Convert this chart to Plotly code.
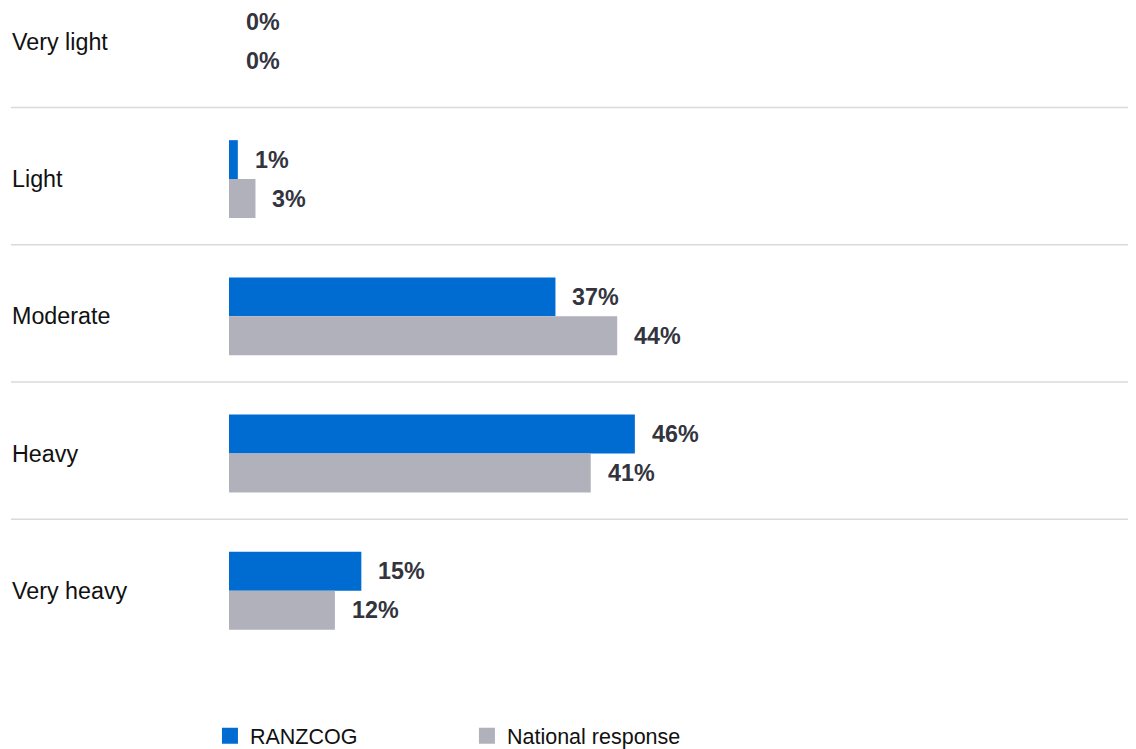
import plotly.graph_objects as go

# === DATA ===
categories = ["Very light", "Light", "Moderate", "Heavy", "Very heavy"]
ranzcog = [0, 1, 37, 46, 15]
national = [0, 3, 44, 41, 12]
series_names = ["RANZCOG", "National response"]

BLUE = "#006CD1"
GREY = "#B1B1BC"
LABEL_COLOR = "#34343E"
FONT = "Liberation Sans, Arial, sans-serif"

# page body has an 8px margin, so the figure is 8px smaller than the window
fig = go.Figure()
for vals, name, col, grp in ((ranzcog, series_names[0], BLUE, "a"),
                             (national, series_names[1], GREY, "b")):
    fig.add_trace(go.Bar(y=categories, x=vals, orientation="h", name=name,
                         marker=dict(color=col, line=dict(width=0)), offsetgroup=grp,
                         showlegend=False))
    # legend entry with a bigger square swatch
    fig.add_trace(go.Scatter(x=[None], y=[None], mode="markers", name=name,
                             marker=dict(symbol="square", size=18, color=col)))

# value labels, placed a little right of each bar end
annotations = []
for i, cat in enumerate(categories):
    for val, off in ((ranzcog[i], -0.142), (national[i], 0.142)):
        annotations.append(dict(x=val, y=i + off, xref="x", yref="y", text=f"<b>{val}%</b>",
                                showarrow=False, xanchor="left", yanchor="middle", xshift=15,
                                font=dict(size=23.3, color=LABEL_COLOR, family=FONT)))
    # category names on the far left
    annotations.append(dict(x=-0.2415, y=i, xref="paper", yref="y", text=cat, showarrow=False,
                            xanchor="left", yanchor="middle",
                            font=dict(size=23.3, color="#111111", family=FONT)))

# thin separators between rows
shapes = []
for i in range(4):
    shapes.append(dict(type="line", xref="paper", yref="y", x0=-0.2404, x1=1.02,
                       y0=i + 0.478, y1=i + 0.478, line=dict(color="#DADADA", width=1.5)))

fig.update_layout(
    width=1128, height=741,
    margin=dict(l=221, r=0, t=0, b=69, autoexpand=False),
    paper_bgcolor="white", plot_bgcolor="white",
    barmode="group", bargap=0.432, bargroupgap=0,
    font=dict(family=FONT, size=21.5, color="#111111"),
    xaxis=dict(range=[0, 102.8], visible=False, fixedrange=True),
    yaxis=dict(type="category", categoryorder="array", categoryarray=categories,
               range=[4.65, -0.247], showticklabels=False, showgrid=False,
               zeroline=False, showline=False, ticks=""),
    showlegend=True,
    legend=dict(orientation="h", x=-0.021, xanchor="left", y=-0.083, yanchor="middle",
                font=dict(size=21.5, color="#111111", family=FONT),
                entrywidth=212, itemclick=False, itemsizing="trace"),
    annotations=annotations,
    shapes=shapes,
)

fig.write_html("out.html")
